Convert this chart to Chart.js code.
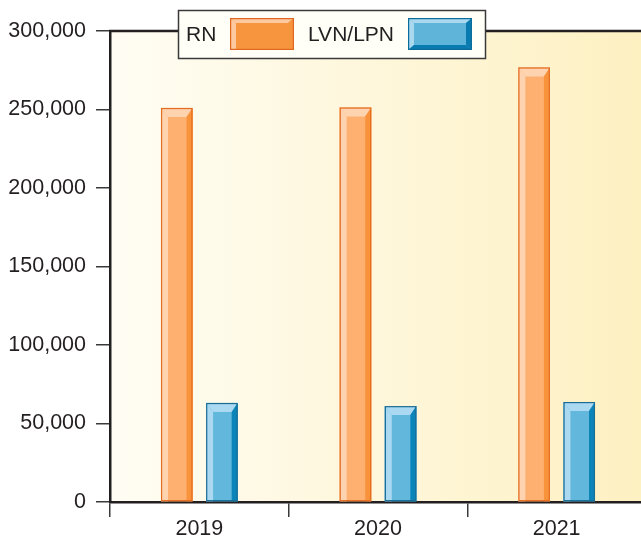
<!DOCTYPE html>
<html>
<head>
<meta charset="utf-8">
<script src="https://cdn.jsdelivr.net/npm/chart.js@4"></script>
<style>
  html, body { margin: 0; padding: 0; overflow: hidden; background: #ffffff; }
  #wrap { width: 646px; height: 538px; }
</style>
</head>
<body>
<div id="wrap"><canvas id="c" width="646" height="538"></canvas></div>
<script>
// Nursing workforce by year
const years = ['2019', '2020', '2021'];
const rnValues = [251000, 251300, 276800];
const lvnValues = [63100, 61100, 63700];
const yTickValues = [0, 50000, 100000, 150000, 200000, 250000, 300000];

const FONT = '"Liberation Sans", Arial, Helvetica, sans-serif';
const INK = '#231f20';

// bevel palettes: border, light (top/left), face, dark (right/bottom)
const barStyles = [
  { border: '#e46c22', light: '#fed4b0', face: '#fdb070', dark: '#f8923b' },
  { border: '#1a6d96', light: '#aad9f1', face: '#62b7dc', dark: '#0b84b9' }
];
const swatchStyles = [
  { border: '#e2671e', light: '#fcc9a0', face: '#f7953f', dark: '#f7953f' },
  { border: '#0a6d9a', light: '#a9d8ef', face: '#5fb4d9', dark: '#0a7bb0' }
];

function bevelRect(ctx, l, t, r, b, s, lb, tb, rb, bb) {
  ctx.save();
  ctx.fillStyle = s.face;
  ctx.fillRect(l, t, r - l, b - t);
  // top strip
  ctx.fillStyle = s.light;
  ctx.beginPath();
  ctx.moveTo(l, t); ctx.lineTo(r, t); ctx.lineTo(r - rb, t + tb); ctx.lineTo(l + lb, t + tb);
  ctx.closePath(); ctx.fill();
  // left strip
  ctx.beginPath();
  ctx.moveTo(l, t); ctx.lineTo(l + lb, t + tb); ctx.lineTo(l + lb, b - bb); ctx.lineTo(l, b);
  ctx.closePath(); ctx.fill();
  // right strip
  ctx.fillStyle = s.dark;
  ctx.beginPath();
  ctx.moveTo(r, t); ctx.lineTo(r, b); ctx.lineTo(r - rb, b - bb); ctx.lineTo(r - rb, t + tb);
  ctx.closePath(); ctx.fill();
  // bottom strip
  if (bb > 0) {
    ctx.beginPath();
    ctx.moveTo(l, b); ctx.lineTo(r, b); ctx.lineTo(r - rb, b - bb); ctx.lineTo(l + lb, b - bb);
    ctx.closePath(); ctx.fill();
  }
  ctx.strokeStyle = s.border;
  ctx.lineWidth = 1.2;
  ctx.strokeRect(l + 0.6, t + 0.6, r - l - 1.2, b - t - 1.2);
  ctx.restore();
}

const plotBackground = {
  id: 'plotBackground',
  beforeDraw(chart) {
    const { ctx, chartArea: a } = chart;
    const g = ctx.createLinearGradient(a.left, 0, a.right, 0);
    g.addColorStop(0, '#fffdf4');
    g.addColorStop(1, '#fdf0c1');
    ctx.save();
    ctx.fillStyle = g;
    ctx.fillRect(a.left, a.top, a.right - a.left, a.bottom - a.top);
    ctx.restore();
  }
};

const bevelBars = {
  id: 'bevelBars',
  afterDatasetsDraw(chart) {
    const ctx = chart.ctx;
    chart.data.datasets.forEach((ds, i) => {
      const meta = chart.getDatasetMeta(i);
      meta.data.forEach(bar => {
        const p = bar.getProps(['x', 'y', 'base', 'width'], true);
        const l = p.x - p.width / 2, r = p.x + p.width / 2;
        bevelRect(ctx, l, p.y, r, p.base, barStyles[i], 7, 9, 6, 0);
      });
    });
  }
};

const frameAndLegend = {
  id: 'frameAndLegend',
  afterDraw(chart) {
    const { ctx, chartArea: a } = chart;
    ctx.save();
    // top frame line
    ctx.strokeStyle = '#231f20';
    ctx.lineWidth = 2.5;
    ctx.beginPath();
    ctx.moveTo(a.left - 1, a.top);
    ctx.lineTo(a.right, a.top);
    ctx.stroke();

    // legend box
    const bx = 178, by = 10, bw = 307, bh = 48;
    ctx.fillStyle = '#fffef7';
    ctx.fillRect(bx, by, bw, bh);
    ctx.strokeStyle = '#3a3a3a';
    ctx.lineWidth = 1.5;
    ctx.strokeRect(bx + 0.5, by + 0.5, bw, bh);

    ctx.font = '21px ' + FONT;
    ctx.textBaseline = 'middle';
    ctx.textAlign = 'left';
    const items = [
      { textX: 186, swX: 230 },
      { textX: 308, swX: 408 }
    ];
    chart.data.datasets.forEach((ds, i) => {
      const it = items[i];
      ctx.fillStyle = INK;
      ctx.fillText(ds.label, it.textX, 35);
      bevelRect(ctx, it.swX, 18, it.swX + 64, 50, swatchStyles[i], 6, 5, 6, i === 1 ? 5 : 0);
    });
    ctx.restore();
  }
};

new Chart(document.getElementById('c'), {
  type: 'bar',
  data: {
    labels: years,
    datasets: [
      { label: 'RN', data: rnValues, backgroundColor: barStyles[0].face, borderWidth: 0 },
      { label: 'LVN/LPN', data: lvnValues, backgroundColor: barStyles[1].face, borderWidth: 0 }
    ]
  },
  options: {
    responsive: false,
    animation: false,
    devicePixelRatio: 1,
    categoryPercentage: 0.505,
    barPercentage: 0.7,
    layout: { padding: { top: 31, right: 0, bottom: 0, left: 0 } },
    plugins: {
      legend: { display: false },
      tooltip: { enabled: false }
    },
    scales: {
      x: {
        offset: true,
        grid: {
          offset: true,
          drawOnChartArea: false,
          drawTicks: true,
          tickLength: 15,
          color: '#3a3a3a',
          lineWidth: 1.5
        },
        border: { display: true, color: '#231f20', width: 2.5 },
        ticks: { color: INK, font: { family: FONT, size: 21.5 }, padding: -1, maxRotation: 0 },
        afterFit(scale) { scale.height = 36; }
      },
      y: {
        min: 0,
        max: 300000,
        afterBuildTicks(scale) { scale.ticks = yTickValues.map(v => ({ value: v })); },
        grid: {
          drawOnChartArea: false,
          drawTicks: true,
          tickLength: 14,
          color: '#3a3a3a',
          lineWidth: 1.5
        },
        border: { display: true, color: '#231f20', width: 2.5 },
        ticks: {
          color: INK,
          font: { family: FONT, size: 21.5 },
          padding: 10,
          callback: v => Number(v).toLocaleString('en-US')
        },
        afterFit(scale) { scale.width = 110; }
      }
    }
  },
  plugins: [plotBackground, bevelBars, frameAndLegend]
});
</script>
</body>
</html>
